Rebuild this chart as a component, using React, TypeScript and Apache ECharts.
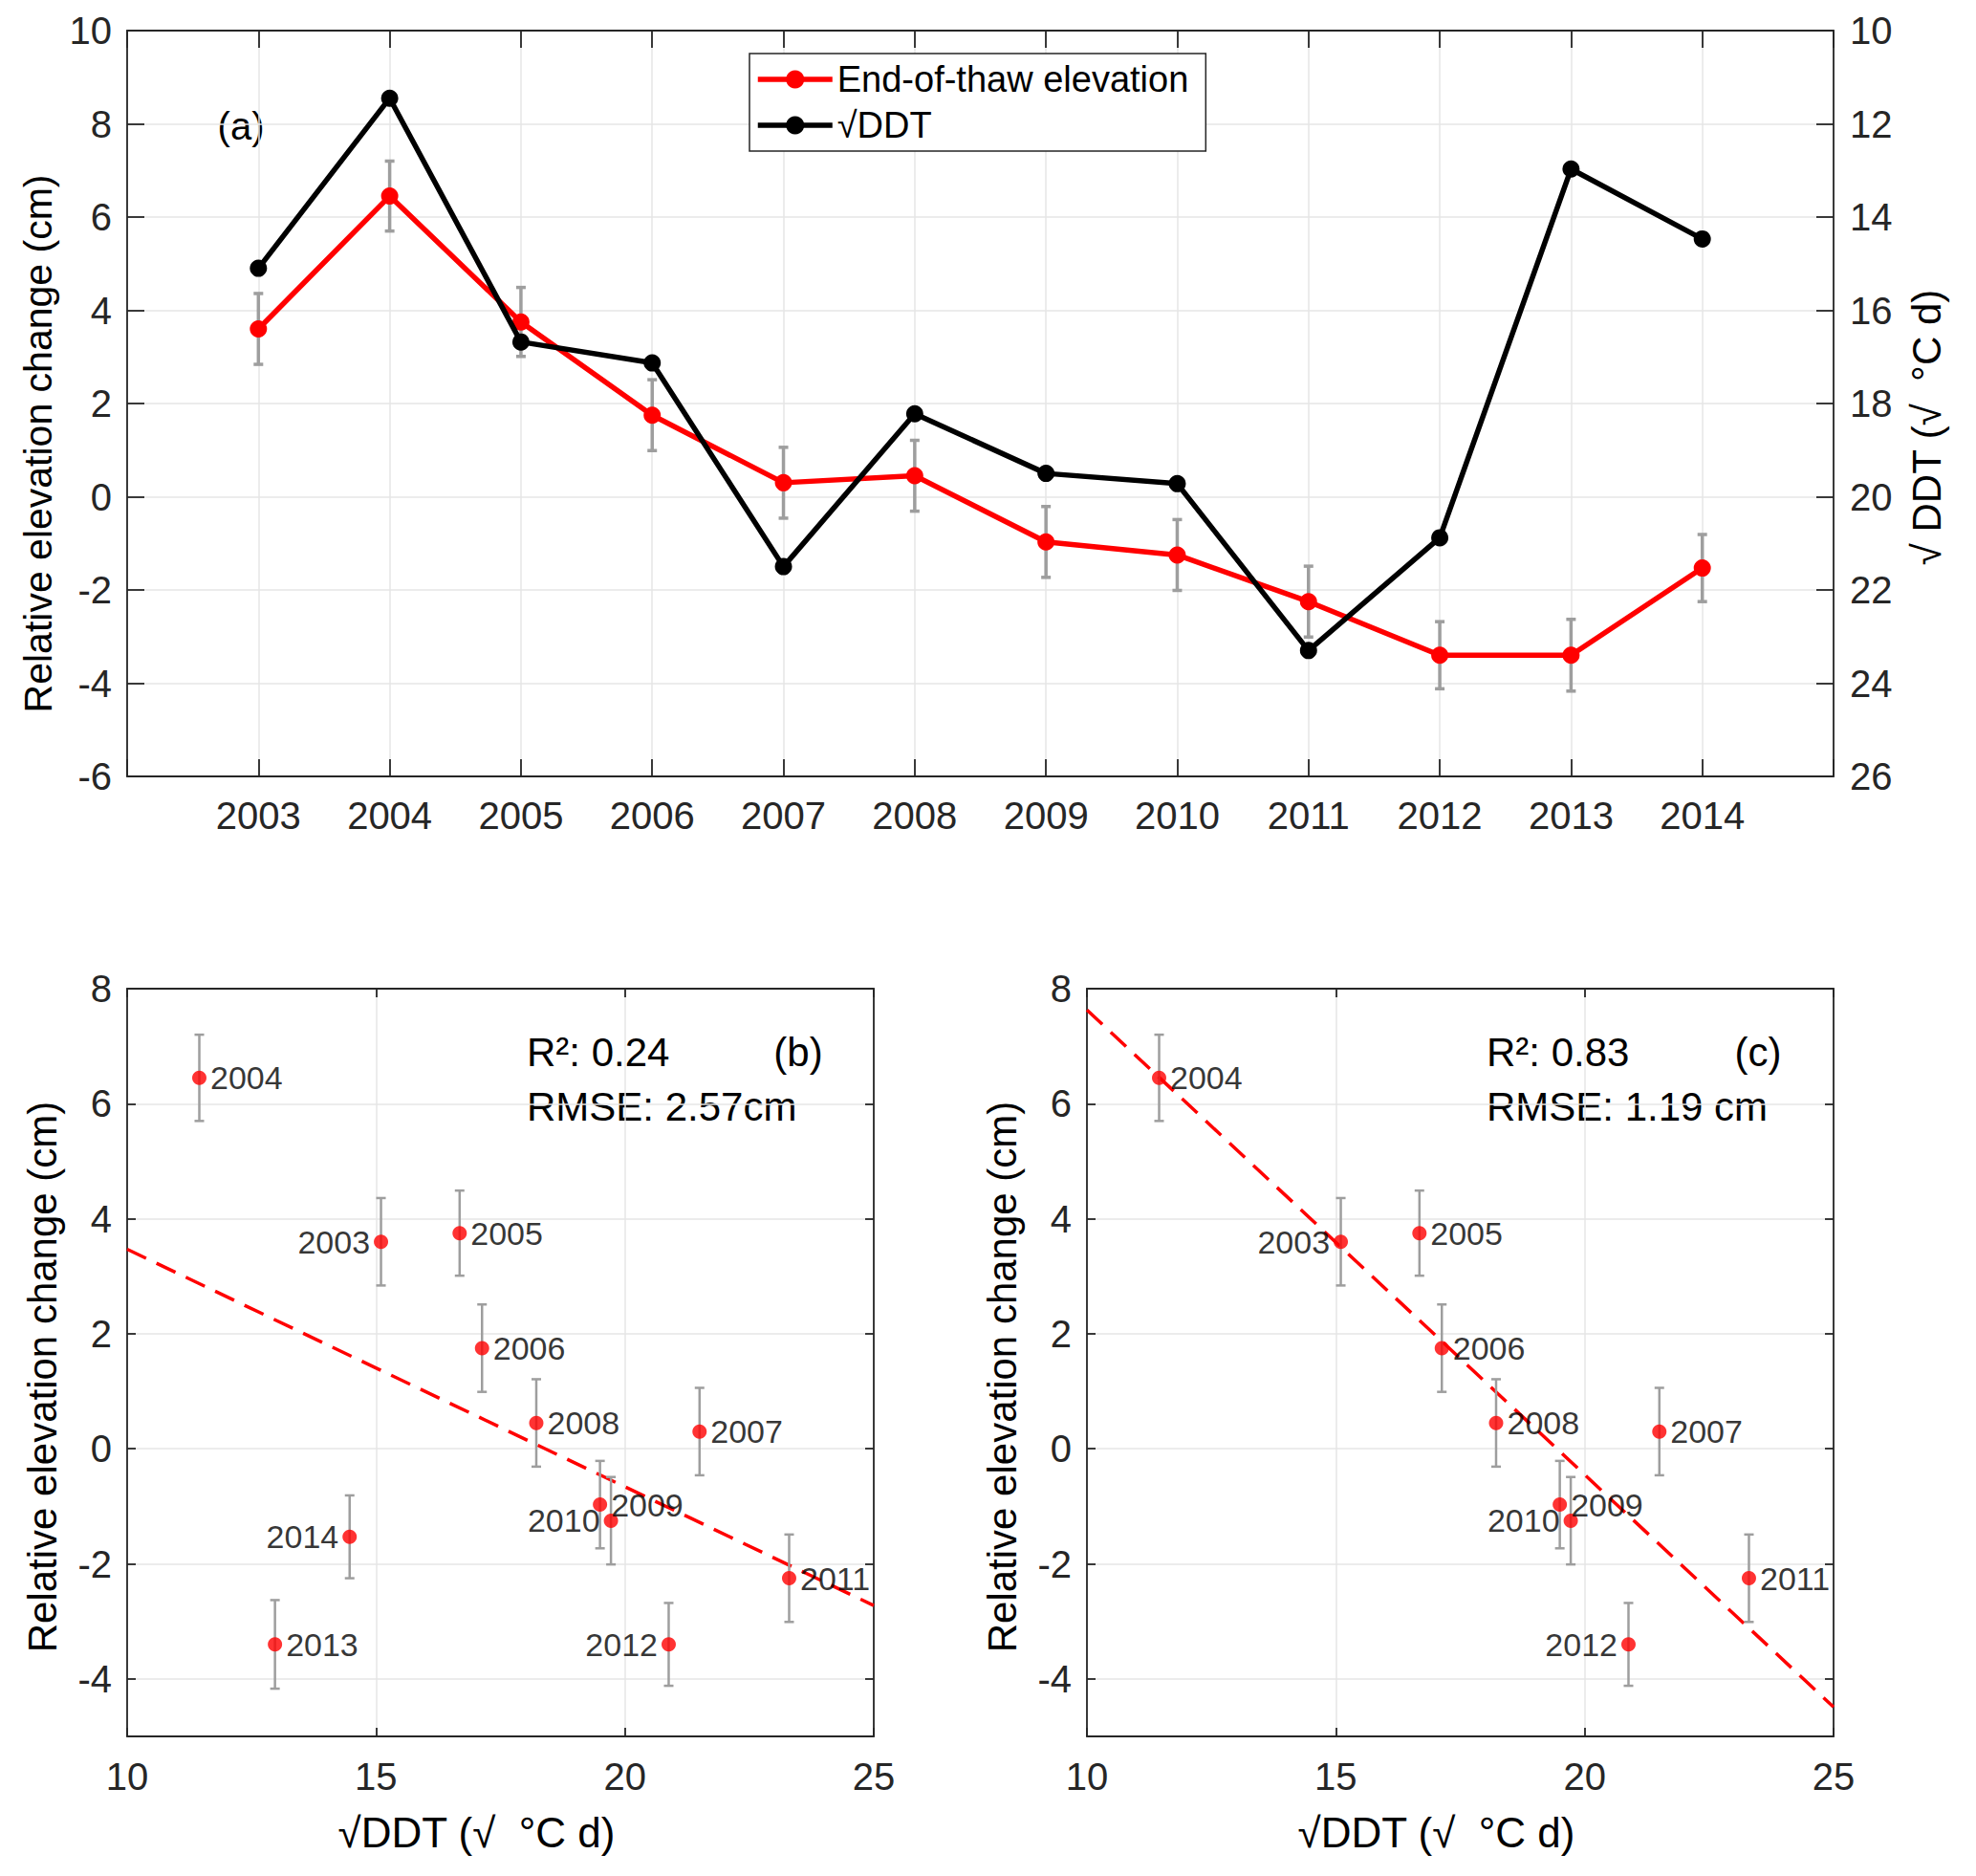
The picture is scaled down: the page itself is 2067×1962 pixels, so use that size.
import { useEffect, useRef } from 'react'
import * as echarts from 'echarts'

// ---- data ----
const years = [2003, 2004, 2005, 2006, 2007, 2008, 2009, 2010, 2011, 2012, 2013, 2014]
const elevation = [3.6, 6.45, 3.75, 1.75, 0.3, 0.45, -0.97, -1.25, -2.25, -3.4, -3.4, -1.53]
const elevationErr = [0.76, 0.75, 0.74, 0.76, 0.76, 0.76, 0.76, 0.76, 0.76, 0.72, 0.77, 0.72]
const sqrtDDT = [15.1, 11.45, 16.68, 17.13, 21.5, 18.22, 19.5, 19.72, 23.3, 20.88, 12.97, 14.47]
const labelSide = ['left', 'right', 'right', 'right', 'right', 'right', 'right', 'left', 'right', 'left', 'right', 'left']
const yearsFitC = [2003, 2004, 2005, 2006, 2007, 2008, 2009, 2010, 2011, 2012]

const leftTicksTop = [-6, -4, -2, 0, 2, 4, 6, 8, 10]
const scatterYTicks = [-4, -2, 0, 2, 4, 6, 8]

// fitted lines: elevation = intercept + slope * sqrtDDT
const fitAll = { intercept: 7.6, slope: -0.413 }
const fitExcl = { intercept: 15.71, slope: -0.808 }
const statsB = ['R²: 0.24', 'RMSE: 2.57cm']
const statsC = ['R²: 0.83', 'RMSE: 1.19 cm']

const FONT = '"Liberation Sans", Arial, Helvetica, sans-serif'
const AXIS = '#262626'
const GRID = '#e6e6e6'
const ERR = '#9e9e9e'

const errorBars = (capHalf: number, width: number) => (_p: any, api: any) => {
  const x = api.value(0)
  const top = api.coord([x, api.value(2)])
  const bot = api.coord([x, api.value(1)])
  const style = { stroke: ERR, lineWidth: width }
  return {
    type: 'group',
    children: [
      { type: 'line', shape: { x1: top[0], y1: top[1], x2: bot[0], y2: bot[1] }, style },
      { type: 'line', shape: { x1: top[0] - capHalf, y1: top[1], x2: top[0] + capHalf, y2: top[1] }, style },
      { type: 'line', shape: { x1: bot[0] - capHalf, y1: bot[1], x2: bot[0] + capHalf, y2: bot[1] }, style },
    ],
  }
}

const line = (w = 1.8) => ({ show: true, onZero: false, lineStyle: { color: AXIS, width: w } })
const tick = (len: number, extra: any = {}) => ({ show: true, inside: true, length: len, lineStyle: { color: AXIS, width: 1.8 }, ...extra })
const split = (show: boolean) => ({ show, lineStyle: { color: GRID, width: 1.5 } })

function scatterPanel(xIdx: number, yIdx: number, keep: number[], fit: { intercept: number; slope: number }) {
  const idx = years.map((y, i) => i).filter(i => keep.includes(years[i]))
  return [
    {
      type: 'line',
      xAxisIndex: xIdx,
      yAxisIndex: yIdx,
      data: [10, 25].map(x => [x, fit.intercept + fit.slope * x]),
      symbol: 'none',
      silent: true,
      z: 1,
      lineStyle: { color: '#ff0000', width: 3.5, type: [22, 12] },
    },
    {
      type: 'custom',
      xAxisIndex: xIdx,
      yAxisIndex: yIdx,
      renderItem: errorBars(5, 2.5),
      encode: { x: 0, y: [1, 2] },
      data: idx.map(i => [sqrtDDT[i], elevation[i] - elevationErr[i], elevation[i] + elevationErr[i]]),
      silent: true,
      z: 2,
    },
    {
      type: 'scatter',
      xAxisIndex: xIdx,
      yAxisIndex: yIdx,
      symbolSize: 15,
      itemStyle: { color: '#ff0000' },
      z: 3,
      data: idx.map(i => ({
        value: [sqrtDDT[i], elevation[i], years[i]],
        label: { position: labelSide[i] },
      })),
      label: {
        show: true,
        distance: 4,
        fontSize: 34,
        fontFamily: FONT,
        color: '#000',
        formatter: (p: any) => String(p.value[2]),
      },
    },
  ]
}

function scatterAxes(grid: number) {
  const xs = [
    {
      type: 'value', gridIndex: grid, min: 10, max: 25, interval: 5,
      axisLine: line(), axisTick: tick(9), splitLine: split(true),
      axisLabel: { fontSize: 40, color: AXIS, margin: 22, fontFamily: FONT },
      name: '√DDT (√  °C d)', nameLocation: 'middle', nameGap: 78,
      nameTextStyle: { fontSize: 44, color: '#000', fontFamily: FONT, padding: [0, 50, 0, 0] },
    },
    {
      type: 'value', gridIndex: grid, min: 10, max: 25, interval: 5, position: 'top',
      axisLine: line(), axisTick: tick(9), splitLine: split(false), axisLabel: { show: false },
    },
  ]
  const ys = [
    {
      type: 'value', gridIndex: grid, min: -5, max: 8,
      axisLine: line(), axisTick: tick(9, { customValues: scatterYTicks }), splitLine: split(true),
      axisLabel: { fontSize: 40, color: AXIS, margin: 16, fontFamily: FONT, customValues: scatterYTicks },
      name: 'Relative elevation change (cm)', nameLocation: 'middle', nameGap: 68, nameRotate: 90,
      nameTextStyle: { fontSize: 42, color: '#000', fontFamily: FONT, padding: [0, 30, 0, 0] },
    },
    {
      type: 'value', gridIndex: grid, min: -5, max: 8, position: 'right',
      axisLine: line(), axisTick: tick(9, { customValues: scatterYTicks }), splitLine: split(false),
      axisLabel: { show: false, customValues: scatterYTicks },
    },
  ]
  return { xs, ys }
}

function statText(left: number, lines: string[], tag: string, tagX: number) {
  const st = { fontSize: 42, fontFamily: FONT, fill: '#000', textVerticalAlign: 'middle' }
  return [
    { type: 'text', x: left, y: 1100, style: { ...st, text: lines[0], textAlign: 'left' } },
    { type: 'text', x: left, y: 1157, style: { ...st, text: lines[1], textAlign: 'left' } },
    { type: 'text', x: tagX, y: 1100, style: { ...st, text: tag, textAlign: 'center' } },
  ]
}

export default function App() {
  const chartRef = useRef<HTMLDivElement>(null)

  useEffect(() => {
    if (!chartRef.current) return
    const chart = echarts.init(chartRef.current, undefined, { renderer: 'svg' })

    const b = scatterAxes(1)
    const c = scatterAxes(2)

    const option = {
      animation: false,
      backgroundColor: '#fff',
      textStyle: { fontFamily: FONT },
      grid: [
        { left: 133, top: 32, width: 1785, height: 780 },
        { left: 133, top: 1034, width: 781, height: 782 },
        { left: 1137, top: 1034, width: 781, height: 782 },
      ],
      legend: {
        data: ['End-of-thaw elevation', '√DDT'],
        orient: 'vertical',
        left: 784,
        top: 56,
        itemWidth: 78,
        itemHeight: 24,
        itemGap: 4,
        padding: [5, 18, 5, 6],
        borderColor: AXIS,
        borderWidth: 1.5,
        backgroundColor: '#fff',
        lineStyle: { width: 5.5 },
        textStyle: { fontSize: 38, color: '#000', fontFamily: FONT, lineHeight: 44 },
      },
      xAxis: [
        {
          type: 'value', gridIndex: 0, min: 2002, max: 2015, interval: 1,
          axisLine: line(), axisTick: tick(18), splitLine: split(true),
          axisLabel: {
            fontSize: 40, color: AXIS, margin: 21, fontFamily: FONT,
            formatter: (v: number) => (v === 2002 || v === 2015 ? '' : String(v)),
          },
        },
        {
          type: 'value', gridIndex: 0, min: 2002, max: 2015, interval: 1, position: 'top',
          axisLine: line(), axisTick: tick(18), splitLine: split(false), axisLabel: { show: false },
        },
        ...b.xs,
        ...c.xs,
      ],
      yAxis: [
        {
          type: 'value', gridIndex: 0, min: leftTicksTop[0], max: leftTicksTop[leftTicksTop.length - 1], interval: 2,
          axisLine: line(), axisTick: tick(18), splitLine: split(true),
          axisLabel: { fontSize: 40, color: AXIS, margin: 16, fontFamily: FONT },
          name: 'Relative elevation change (cm)', nameLocation: 'middle', nameGap: 73, nameRotate: 90,
          nameTextStyle: { fontSize: 41, color: '#000', fontFamily: FONT, padding: [0, 84, 0, 0] },
        },
        {
          type: 'value', gridIndex: 0, min: 10, max: 26, interval: 2, inverse: true, position: 'right',
          axisLine: line(), axisTick: tick(18), splitLine: split(false),
          axisLabel: { fontSize: 40, color: AXIS, margin: 17, fontFamily: FONT },
          name: '√ DDT (√  °C d)', nameLocation: 'middle', nameGap: 76, nameRotate: 90,
          nameTextStyle: { fontSize: 42, color: '#000', fontFamily: FONT, padding: [0, 50, 0, 0] },
        },
        ...b.ys,
        ...c.ys,
      ],
      series: [
        {
          type: 'custom',
          xAxisIndex: 0,
          yAxisIndex: 0,
          renderItem: errorBars(5, 3.5),
          encode: { x: 0, y: [1, 2] },
          data: years.map((y, i) => [y, elevation[i] - elevationErr[i], elevation[i] + elevationErr[i]]),
          silent: true,
          z: 1,
        },
        {
          name: 'End-of-thaw elevation',
          type: 'line',
          xAxisIndex: 0,
          yAxisIndex: 0,
          data: years.map((y, i) => [y, elevation[i]]),
          symbol: 'circle',
          symbolSize: 18,
          itemStyle: { color: '#ff0000' },
          lineStyle: { color: '#ff0000', width: 5.5 },
          z: 2,
        },
        {
          name: '√DDT',
          type: 'line',
          xAxisIndex: 0,
          yAxisIndex: 1,
          data: years.map((y, i) => [y, sqrtDDT[i]]),
          symbol: 'circle',
          symbolSize: 18,
          itemStyle: { color: '#000' },
          lineStyle: { color: '#000', width: 5.5 },
          z: 3,
        },
        ...scatterPanel(2, 2, years, fitAll),
        ...scatterPanel(4, 4, yearsFitC, fitExcl),
      ],
      graphic: [
        { type: 'text', x: 252, y: 132, style: { text: '(a)', fontSize: 40, fontFamily: FONT, fill: '#000', textAlign: 'center', textVerticalAlign: 'middle' } },
        ...statText(551, statsB, '(b)', 835),
        ...statText(1555, statsC, '(c)', 1839),
      ],
    }

    chart.setOption(option as any)

    return () => {
      chart.dispose()
    }
  }, [])

  return <div ref={chartRef} style={{ position: 'absolute', left: 0, top: 0, width: 2067, height: 1962 }} />
}
